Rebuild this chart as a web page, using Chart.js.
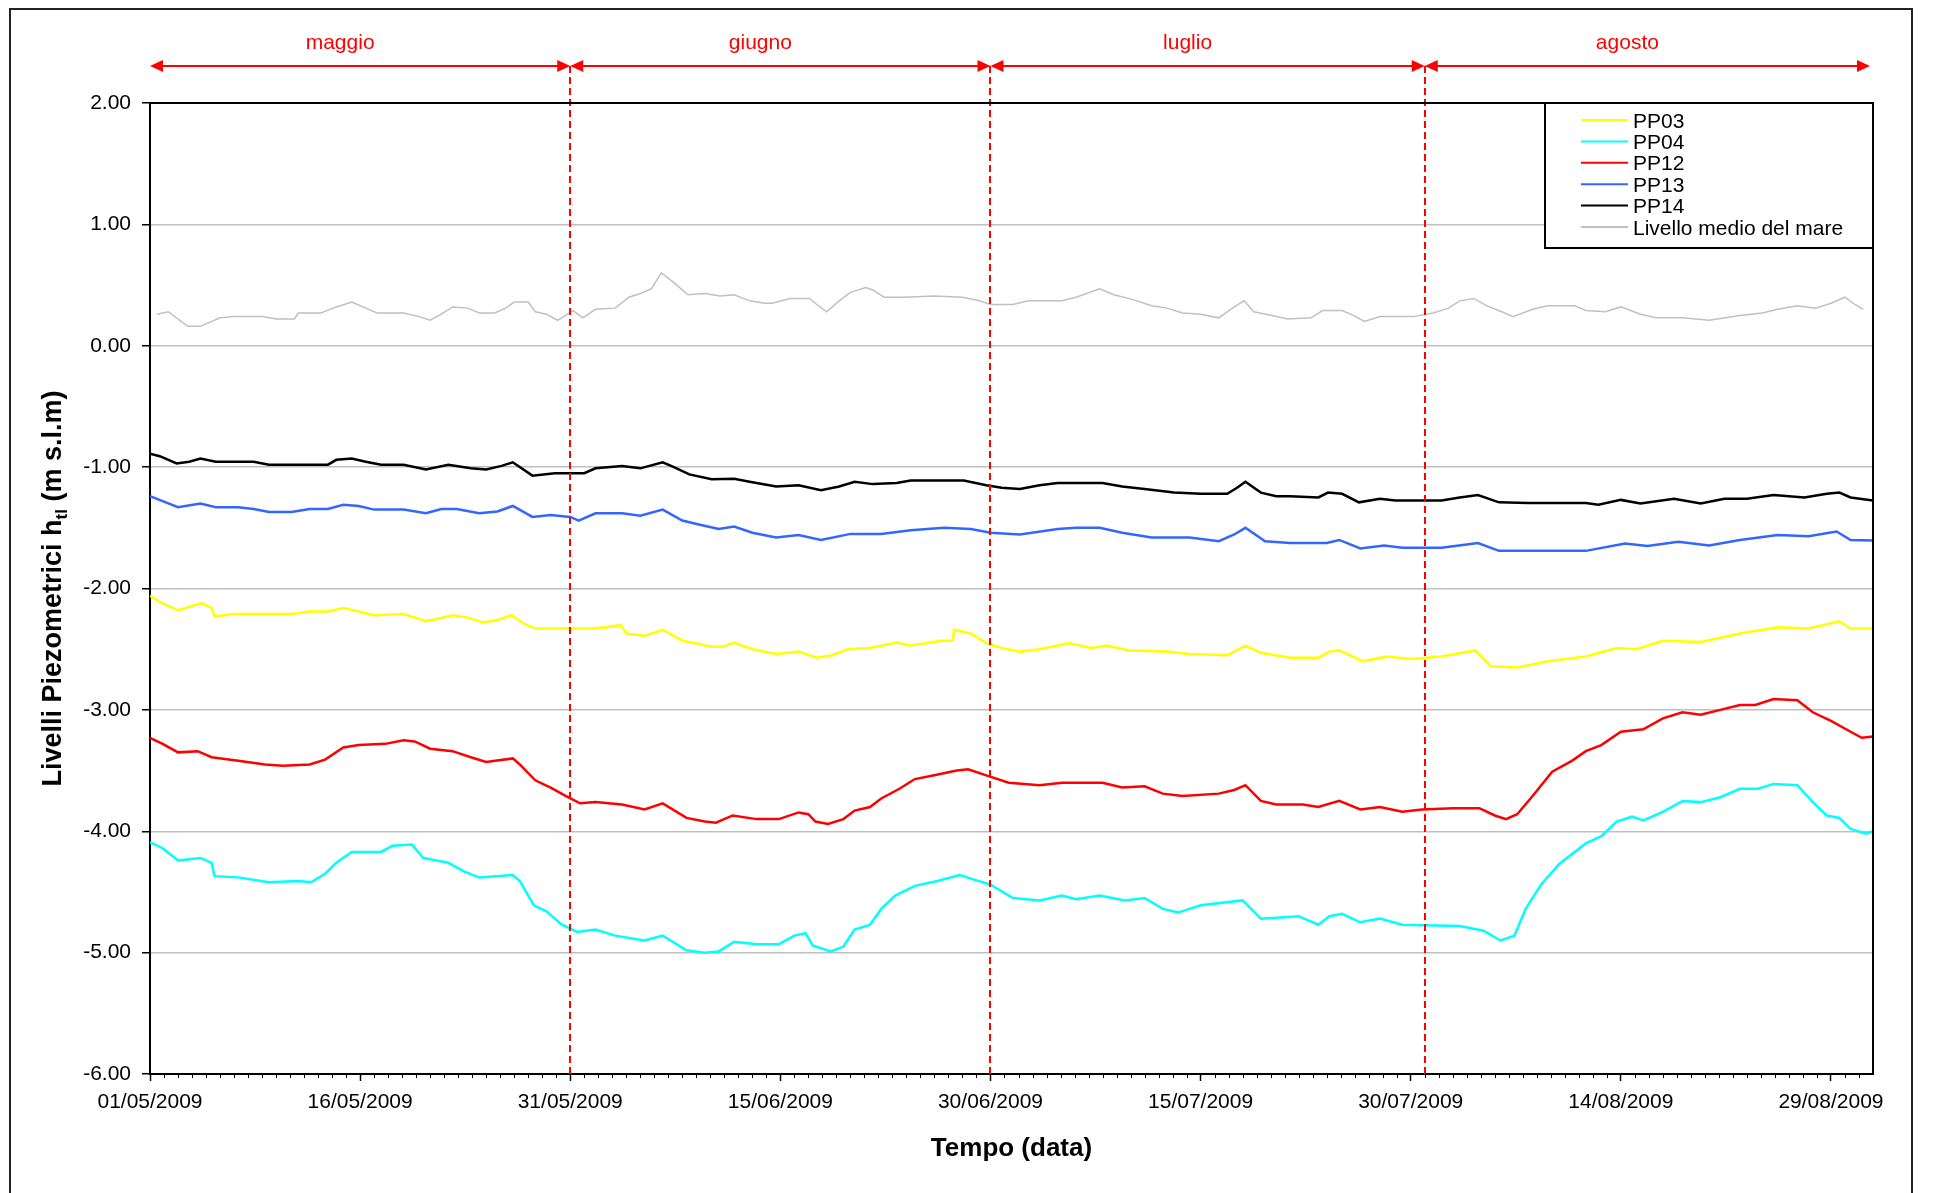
<!DOCTYPE html>
<html lang="it">
<head>
<meta charset="utf-8">
<title>Livelli piezometrici - maggio / agosto 2009</title>
<script src="https://cdn.jsdelivr.net/npm/chart.js@4.4.1/dist/chart.umd.min.js"></script>
<style>
  html, body { margin: 0; padding: 0; background: #fff; }
  #wrap { position: relative; width: 1934px; height: 1193px; }
</style>
</head>
<body>
<div id="wrap"><canvas id="chart"></canvas></div>
<script>
// Data: x = days since 01/05/2009, y = level (m s.l.m.)

const xTickDays = [0, 15, 30, 45, 60, 75, 90, 105, 120];
const xTickLabels = ['01/05/2009', '16/05/2009', '31/05/2009', '15/06/2009', '30/06/2009',
  '15/07/2009', '30/07/2009', '14/08/2009', '29/08/2009'];
const yTicks = [-6, -5, -4, -3, -2, -1, 0, 1, 2];

const monthNames = ['maggio', 'giugno', 'luglio', 'agosto'];
const monthBounds = [0, 30, 60, 91, 123];

const seriesNames = ['PP03', 'PP04', 'PP12', 'PP13', 'PP14', 'Livello medio del mare'];

const pp03 = [
  [0, -2.06], [0.7, -2.11], [2, -2.18], [2.8, -2.15], [3.7, -2.12], [4.4, -2.16], [4.6, -2.23],
  [6, -2.21], [10.1, -2.21], [11.4, -2.19], [12.7, -2.19], [13.8, -2.16], [14.9, -2.19],
  [16, -2.22], [18.1, -2.21], [19.7, -2.27], [21.6, -2.22], [22.7, -2.24], [23.8, -2.28],
  [24.8, -2.26], [25.8, -2.22], [26.7, -2.29], [27.5, -2.33], [28.9, -2.33], [31.5, -2.33],
  [32.6, -2.32], [33.6, -2.30], [34, -2.37], [35.3, -2.39], [36.6, -2.34], [38, -2.43],
  [39.3, -2.46], [40.1, -2.48], [40.9, -2.48], [41.7, -2.445], [43, -2.50], [44.7, -2.54],
  [46.3, -2.52], [47.6, -2.57], [48.7, -2.55], [49.8, -2.50], [51.4, -2.49], [53.3, -2.445],
  [54.3, -2.47], [56.5, -2.43], [57.3, -2.43], [57.4, -2.34], [58.6, -2.37], [59.7, -2.45],
  [60.8, -2.49], [62.1, -2.52], [63.5, -2.50], [65.6, -2.45], [67.2, -2.49], [68.3, -2.47],
  [69.9, -2.51], [72.6, -2.52], [74.2, -2.54], [76.9, -2.55], [78.2, -2.47], [79.3, -2.53],
  [81.4, -2.57], [83.4, -2.57], [84.2, -2.52], [84.9, -2.51], [86.6, -2.60], [88.3, -2.56],
  [90, -2.58], [92.2, -2.56], [94.6, -2.51], [95.7, -2.64], [97.6, -2.65], [99.8, -2.60],
  [102.5, -2.56], [104.7, -2.49], [106.1, -2.50], [108, -2.43], [110.7, -2.44], [113.5, -2.37],
  [116.2, -2.32], [118.4, -2.33], [120.6, -2.27], [121.4, -2.33], [123, -2.33]
];

const pp04 = [
  [0, -4.09], [0.9, -4.14], [2, -4.24], [3.6, -4.22], [4.4, -4.26], [4.6, -4.37], [6.3, -4.38],
  [8.5, -4.42], [10.6, -4.41], [11.5, -4.42], [12.5, -4.35], [13.3, -4.26], [14.4, -4.17],
  [16.5, -4.17], [17.3, -4.12], [18.7, -4.11], [19.5, -4.22], [21.3, -4.26], [22.4, -4.33],
  [23.5, -4.38], [25.9, -4.36], [26.4, -4.41], [27.4, -4.61], [28.3, -4.66], [29.4, -4.77],
  [30.5, -4.83], [31.8, -4.81], [33.2, -4.86], [35.3, -4.90], [36.6, -4.86], [38.3, -4.98],
  [39.6, -5.00], [40.6, -4.99], [41.7, -4.91], [43.3, -4.93], [44.9, -4.93], [46, -4.86],
  [46.8, -4.84], [47.3, -4.94], [48.6, -4.99], [49.5, -4.95], [50.3, -4.81], [51.4, -4.77],
  [52.2, -4.64], [53.2, -4.53], [54.6, -4.45], [56.2, -4.41], [57.8, -4.36], [58.6, -4.39],
  [60, -4.44], [61.6, -4.55], [63.5, -4.57], [65.1, -4.53], [66.1, -4.56], [67.8, -4.53],
  [69.6, -4.57], [71, -4.55], [72.3, -4.64], [73.4, -4.67], [75, -4.61], [78, -4.57],
  [79.3, -4.72], [80.7, -4.71], [82, -4.70], [83.4, -4.77], [84.2, -4.70], [85.1, -4.68],
  [86.4, -4.75], [87.8, -4.72], [89.4, -4.77], [93.5, -4.78], [95.2, -4.82], [96.4, -4.90],
  [97.4, -4.86], [98.2, -4.64], [99.3, -4.44], [100.6, -4.27], [102.5, -4.10], [103.6, -4.04],
  [104.7, -3.92], [105.8, -3.88], [106.6, -3.91], [108, -3.84], [109.4, -3.75], [110.7, -3.76],
  [112.1, -3.72], [113.5, -3.65], [114.8, -3.65], [115.9, -3.61], [117.6, -3.62], [118.7, -3.76],
  [119.7, -3.87], [120.6, -3.89], [121.4, -3.98], [122.5, -4.02], [123, -4.00]
];

const pp12 = [
  [0, -3.23], [0.9, -3.28], [2, -3.35], [3.4, -3.34], [4.4, -3.39], [6.3, -3.42], [8.2, -3.45],
  [9.5, -3.46], [11.4, -3.45], [12.5, -3.41], [13.8, -3.31], [14.9, -3.29], [16.8, -3.28],
  [18.1, -3.25], [18.9, -3.26], [20, -3.32], [21.6, -3.34], [22.9, -3.39], [24, -3.43],
  [25.9, -3.40], [26.4, -3.45], [27.5, -3.58], [28.6, -3.64], [29.7, -3.71], [30.7, -3.77],
  [31.8, -3.76], [33.7, -3.78], [35.3, -3.82], [36.6, -3.77], [38.3, -3.89], [39.6, -3.92],
  [40.4, -3.93], [41.6, -3.87], [43.3, -3.90], [44.9, -3.90], [46.3, -3.845], [47, -3.86],
  [47.5, -3.92], [48.4, -3.94], [49.5, -3.90], [50.3, -3.83], [51.4, -3.80], [52.2, -3.73],
  [53.5, -3.65], [54.6, -3.57], [55.9, -3.54], [57.6, -3.50], [58.4, -3.49], [59.7, -3.54],
  [61.3, -3.60], [63.5, -3.62], [65.1, -3.60], [68, -3.60], [69.4, -3.64], [71, -3.63],
  [72.3, -3.69], [73.7, -3.71], [76.3, -3.69], [77.4, -3.66], [78.2, -3.62], [79.3, -3.75],
  [80.4, -3.78], [82.3, -3.78], [83.4, -3.80], [84.9, -3.75], [86.4, -3.82], [87.8, -3.80],
  [89.4, -3.84], [90.8, -3.82], [93, -3.81], [94.9, -3.81], [96, -3.87], [96.8, -3.90],
  [97.6, -3.86], [98.7, -3.71], [100.1, -3.51], [101.5, -3.42], [102.5, -3.34], [103.6, -3.29],
  [105, -3.18], [106.6, -3.16], [108, -3.07], [109.4, -3.02], [110.7, -3.04], [112.1, -3.00],
  [113.5, -2.96], [114.6, -2.96], [115.9, -2.91], [117.6, -2.92], [118.7, -3.02], [120, -3.09],
  [121.4, -3.18], [122.2, -3.23], [123, -3.22]
];

const pp13 = [
  [0, -1.24], [0.9, -1.28], [2, -1.33], [3.6, -1.30], [4.7, -1.33], [6.3, -1.33], [7.4, -1.345],
  [8.5, -1.37], [10.1, -1.37], [11.4, -1.345], [12.7, -1.345], [13.8, -1.31], [14.9, -1.32],
  [16, -1.35], [18.1, -1.35], [19.7, -1.38], [20.8, -1.345], [21.9, -1.345], [23.5, -1.38],
  [24.8, -1.365], [25.9, -1.32], [27.3, -1.41], [28.6, -1.395], [30, -1.41], [30.6, -1.44],
  [31.8, -1.38], [33.7, -1.38], [35, -1.40], [36.6, -1.35], [38, -1.44], [39.1, -1.47],
  [40.6, -1.51], [41.7, -1.49], [43, -1.54], [44.7, -1.58], [46.3, -1.56], [47.9, -1.60],
  [50, -1.55], [52.2, -1.55], [54.3, -1.52], [56.7, -1.50], [58.6, -1.51], [60, -1.54],
  [62.1, -1.555], [64.8, -1.51], [66.1, -1.50], [67.8, -1.50], [69.4, -1.54], [71.5, -1.58],
  [74.2, -1.58], [76.3, -1.61], [77.4, -1.555], [78.2, -1.50], [79.6, -1.61], [81.4, -1.625],
  [84, -1.625], [84.9, -1.60], [86.4, -1.67], [88.1, -1.645], [89.4, -1.665], [92.2, -1.665],
  [94.8, -1.625], [96.3, -1.69], [98.4, -1.69], [102.5, -1.69], [105.3, -1.63], [106.9, -1.65],
  [109.1, -1.615], [111.3, -1.645], [113.5, -1.60], [116.2, -1.56], [118.4, -1.57],
  [120.4, -1.53], [121.4, -1.60], [123, -1.605]
];

const pp14 = [
  [0, -0.89], [0.7, -0.91], [1.9, -0.97], [2.8, -0.955], [3.6, -0.93], [4.7, -0.955],
  [7.4, -0.955], [8.5, -0.98], [12.7, -0.98], [13.3, -0.94], [14.4, -0.93], [15.4, -0.955],
  [16.5, -0.98], [18.1, -0.98], [19.7, -1.02], [21.3, -0.98], [22.9, -1.01], [24, -1.02],
  [25.1, -0.99], [25.9, -0.96], [27.3, -1.07], [28.9, -1.05], [31, -1.05], [31.8, -1.01],
  [33.7, -0.99], [35, -1.01], [36.6, -0.96], [37.4, -1.00], [38.5, -1.06], [40.1, -1.10],
  [41.7, -1.095], [42.8, -1.12], [44.7, -1.16], [46.3, -1.15], [47.9, -1.19], [49.2, -1.16],
  [50.3, -1.12], [51.6, -1.14], [53.3, -1.13], [54.3, -1.11], [58.1, -1.11], [59.7, -1.15],
  [60.8, -1.17], [62.1, -1.18], [63.5, -1.15], [64.8, -1.13], [68, -1.13], [69.4, -1.16],
  [71, -1.18], [73.1, -1.21], [75, -1.22], [76.9, -1.22], [77.6, -1.17], [78.2, -1.12],
  [79.3, -1.21], [80.4, -1.24], [81.4, -1.24], [83.4, -1.25], [84.1, -1.21], [85.1, -1.22],
  [86.3, -1.29], [87.8, -1.26], [88.9, -1.275], [92.2, -1.275], [93.5, -1.25], [94.8, -1.23],
  [96.3, -1.29], [98.4, -1.295], [102.5, -1.295], [103.4, -1.31], [105, -1.27], [106.4, -1.30],
  [108.8, -1.26], [110.7, -1.30], [112.4, -1.26], [114, -1.26], [115.9, -1.23], [118.1, -1.25],
  [119.7, -1.22], [120.6, -1.21], [121.4, -1.25], [123, -1.275]
];

const seaLevel = [
  [0.5, 0.26], [1.3, 0.28], [2, 0.22], [2.7, 0.16], [3.6, 0.16], [5, 0.23], [6, 0.24], [8, 0.24],
  [9, 0.22], [10.3, 0.22], [10.6, 0.27], [12.2, 0.27], [13.3, 0.32], [14.4, 0.36], [15.4, 0.31],
  [16.2, 0.27], [18.1, 0.27], [19.2, 0.24], [20, 0.21], [20.8, 0.26], [21.6, 0.32], [22.7, 0.31],
  [23.5, 0.27], [24.6, 0.27], [25.4, 0.31], [26, 0.36], [27, 0.36], [27.5, 0.28], [28.3, 0.26],
  [29.1, 0.21], [30.2, 0.29], [30.9, 0.23], [31.8, 0.30], [33.2, 0.31], [34.2, 0.40], [35, 0.43],
  [35.8, 0.47], [36.5, 0.60], [37.4, 0.52], [38.4, 0.42], [39.6, 0.43], [40.7, 0.41], [41.7, 0.42],
  [42.8, 0.37], [43.9, 0.35], [44.4, 0.35], [45.7, 0.39], [47.1, 0.39], [47.6, 0.34], [48.3, 0.28],
  [49.2, 0.37], [50, 0.44], [51.1, 0.48], [51.6, 0.46], [52.4, 0.40], [53.8, 0.40], [56, 0.41],
  [58, 0.40], [59.2, 0.37], [60, 0.34], [61.6, 0.34], [62.7, 0.37], [65.1, 0.37], [66.1, 0.40],
  [67.8, 0.47], [68.8, 0.42], [70.2, 0.38], [71.5, 0.33], [72.6, 0.31], [73.7, 0.27], [75, 0.26],
  [76.3, 0.23], [77.4, 0.32], [78.1, 0.37], [78.8, 0.28], [80.1, 0.25], [81.2, 0.22], [82.9, 0.23],
  [83.7, 0.29], [85.1, 0.29], [85.9, 0.25], [86.7, 0.20], [87.8, 0.24], [90.2, 0.24], [91.6, 0.27],
  [92.7, 0.31], [93.5, 0.37], [94.5, 0.39], [95.4, 0.33], [96.5, 0.28], [97.3, 0.24], [98.7, 0.30],
  [99.8, 0.33], [101.7, 0.33], [102.5, 0.29], [103.9, 0.28], [105, 0.32], [106.4, 0.26],
  [107.5, 0.23], [109.4, 0.23], [111.3, 0.21], [113.5, 0.25], [115.1, 0.27], [116.2, 0.30],
  [117.6, 0.33], [118.9, 0.31], [120, 0.35], [121, 0.40], [121.7, 0.34], [122.3, 0.30]
];

const seriesValues = [pp03, pp04, pp12, pp13, pp14, seaLevel];

// Styling
const FONT = '"Liberation Sans", Arial, sans-serif';
const seriesColors = ['#ffff00', '#00ffff', '#ff0000', '#3366ff', '#000000', '#c0c0c0'];
const seriesWidths = [2.5, 2.5, 2.5, 2.5, 2.5, 1.5];
const MARK_RED = '#ff0000';

// Extra drawing: frame, month arrows, dashed month limits, axis titles, legend box
const overlayPlugin = {
  id: 'overlay',
  beforeDraw(chart) {
    const { ctx, width, height } = chart;
    ctx.save();
    ctx.fillStyle = '#fff';
    ctx.fillRect(0, 0, width, height);
    ctx.strokeStyle = '#222';
    ctx.lineWidth = 2;
    ctx.strokeRect(10, 9, 1902, height + 30);
    ctx.restore();
  },
  afterDatasetsDraw(chart) {
    const { ctx, chartArea, scales } = chart;
    ctx.save();
    ctx.strokeStyle = MARK_RED;
    ctx.lineWidth = 2;
    ctx.setLineDash([7, 4]);
    monthBounds.slice(1, -1).forEach(d => {
      const x = Math.round(scales.x.getPixelForValue(d));
      ctx.beginPath();
      ctx.moveTo(x, 66);
      ctx.lineTo(x, chartArea.bottom);
      ctx.stroke();
    });
    ctx.restore();
  },
  afterDraw(chart) {
    const { ctx, chartArea, scales } = chart;
    const xs = scales.x;
    ctx.save();

    // plot box (top + right edges)
    ctx.strokeStyle = '#000';
    ctx.lineWidth = 2;
    ctx.beginPath();
    ctx.moveTo(chartArea.left, chartArea.top);
    ctx.lineTo(chartArea.right, chartArea.top);
    ctx.lineTo(chartArea.right, chartArea.bottom);
    ctx.stroke();

    // daily minor ticks on the time axis
    ctx.lineWidth = 1;
    for (let d = 1; d < 123; d++) {
      if (d % 15 === 0) continue;
      const x = Math.round(xs.getPixelForValue(d)) + 0.5;
      ctx.beginPath();
      ctx.moveTo(x, chartArea.bottom);
      ctx.lineTo(x, chartArea.bottom + 4);
      ctx.stroke();
    }

    // month arrows
    const ay = 66;
    ctx.strokeStyle = MARK_RED;
    ctx.fillStyle = MARK_RED;
    ctx.lineWidth = 2;
    monthNames.forEach((name, i) => {
      const x0 = xs.getPixelForValue(monthBounds[i]);
      const x1 = Math.min(xs.getPixelForValue(monthBounds[i + 1]), chartArea.right - 3);
      ctx.beginPath();
      ctx.moveTo(x0 + 10, ay);
      ctx.lineTo(x1 - 10, ay);
      ctx.stroke();
      ctx.beginPath();
      ctx.moveTo(x0, ay); ctx.lineTo(x0 + 13, ay - 6); ctx.lineTo(x0 + 13, ay + 6); ctx.closePath();
      ctx.fill();
      ctx.beginPath();
      ctx.moveTo(x1, ay); ctx.lineTo(x1 - 13, ay - 6); ctx.lineTo(x1 - 13, ay + 6); ctx.closePath();
      ctx.fill();
      ctx.font = '21px ' + FONT;
      ctx.textAlign = 'center';
      ctx.textBaseline = 'alphabetic';
      ctx.fillText(name, (x0 + x1) / 2 - 20, 49);
    });

    // x axis title
    ctx.fillStyle = '#000';
    ctx.font = 'bold 26px ' + FONT;
    ctx.textAlign = 'center';
    ctx.fillText('Tempo (data)', (chartArea.left + chartArea.right) / 2, 1156);

    // y axis title with subscript
    const big = 'bold 27px ' + FONT;
    const small = 'bold 17px ' + FONT;
    const parts = [['Livelli Piezometrici h', big, 0], ['tl', small, 6], [' (m s.l.m)', big, 0]];
    let total = 0;
    parts.forEach(p => { ctx.font = p[1]; total += ctx.measureText(p[0]).width; });
    ctx.save();
    ctx.translate(61, (chartArea.top + chartArea.bottom) / 2);
    ctx.rotate(-Math.PI / 2);
    ctx.textAlign = 'left';
    let tx = -total / 2;
    parts.forEach(p => {
      ctx.font = p[1];
      ctx.fillText(p[0], tx, p[2]);
      tx += ctx.measureText(p[0]).width;
    });
    ctx.restore();

    // legend box in the top right corner of the plot
    const bx = 1545, by = chartArea.top, bw = chartArea.right - 1545, bh = 145;
    ctx.fillStyle = '#fff';
    ctx.fillRect(bx, by, bw, bh);
    ctx.strokeStyle = '#000';
    ctx.lineWidth = 2;
    ctx.strokeRect(bx, by, bw, bh);
    ctx.font = '21px ' + FONT;
    ctx.textAlign = 'left';
    chart.data.datasets.forEach((ds, i) => {
      const y = by + 17 + i * 21.4;
      ctx.strokeStyle = ds.borderColor;
      ctx.lineWidth = 2;
      ctx.beginPath();
      ctx.moveTo(bx + 36, y);
      ctx.lineTo(bx + 83, y);
      ctx.stroke();
      ctx.fillStyle = '#000';
      ctx.fillText(ds.label, bx + 88, y + 7.5);
    });
    ctx.restore();
  }
};

const datasets = seriesNames.map((name, i) => ({
  label: name,
  data: seriesValues[i].map(p => ({ x: p[0], y: p[1] })),
  borderColor: seriesColors[i],
  borderWidth: seriesWidths[i],
  pointRadius: 0,
  tension: 0,
  fill: false
}));

new Chart(document.getElementById('chart'), {
  type: 'line',
  data: { datasets },
  options: {
    responsive: true,
    maintainAspectRatio: false,
    animation: false,
    parsing: false,
    layout: { padding: { top: 103, right: 61, left: 0, bottom: 0 } },
    plugins: {
      legend: { display: false },
      tooltip: { enabled: false }
    },
    scales: {
      x: {
        type: 'linear',
        min: 0,
        max: 123,
        afterBuildTicks: (scale) => { scale.ticks = xTickDays.map(v => ({ value: v })); },
        afterFit: (scale) => { scale.height = 119; },
        border: { color: '#000', width: 2 },
        grid: { drawOnChartArea: false, tickLength: 7, tickColor: '#000', tickWidth: 1.5 },
        ticks: {
          autoSkip: false,
          maxRotation: 0,
          padding: 9,
          color: '#000',
          font: { family: FONT, size: 21 },
          callback: (value, index) => xTickLabels[index]
        }
      },
      y: {
        min: -6,
        max: 2,
        afterBuildTicks: (scale) => { scale.ticks = yTicks.map(v => ({ value: v })); },
        afterFit: (scale) => { scale.width = 150; },
        border: { color: '#000', width: 2 },
        grid: { color: '#c0c0c0', lineWidth: 1.5, tickLength: 8, tickColor: '#000', tickWidth: 1.5 },
        ticks: {
          padding: 11,
          color: '#000',
          font: { family: FONT, size: 21 },
          callback: (value) => value.toFixed(2)
        }
      }
    }
  },
  plugins: [overlayPlugin]
});
</script>
</body>
</html>
